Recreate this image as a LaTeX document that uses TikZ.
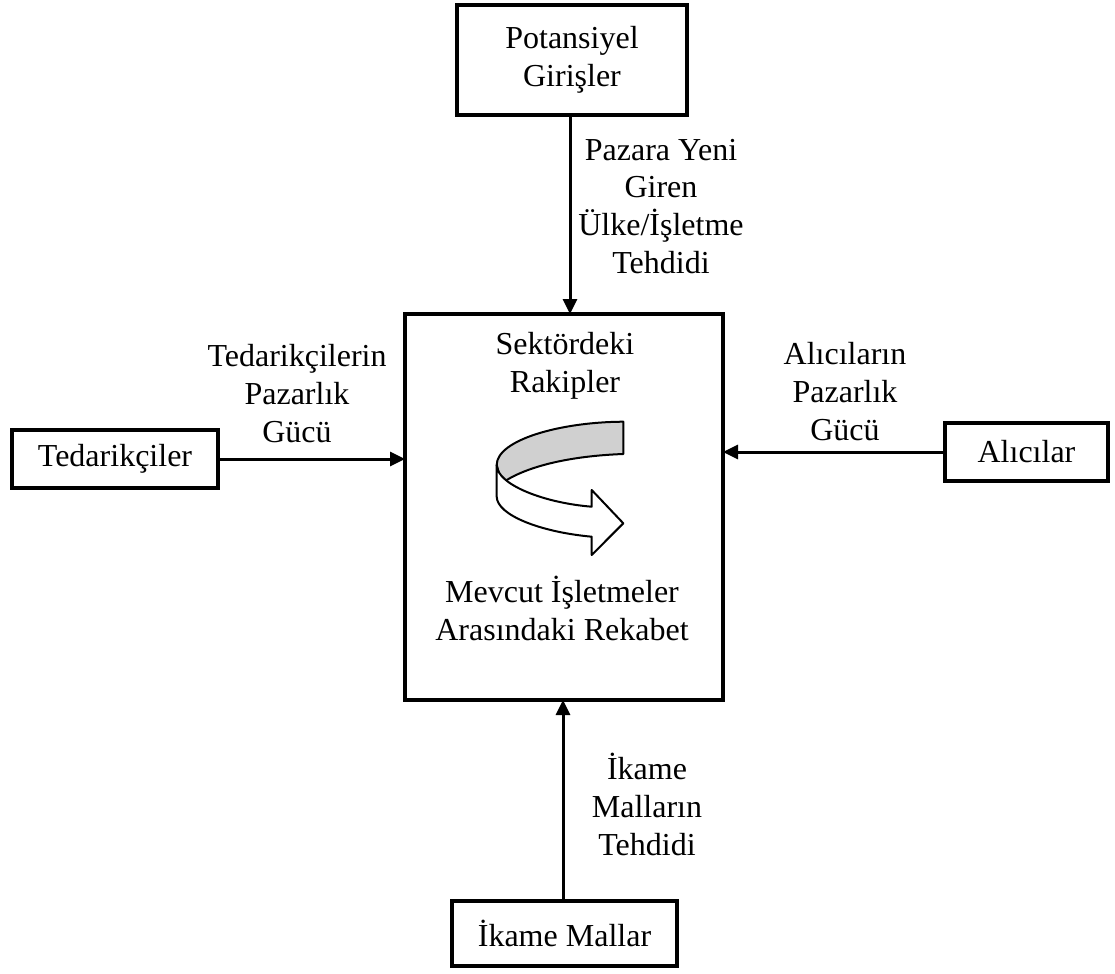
\documentclass[tikz,border=0pt]{standalone}
\usepackage{fontspec}
\setmainfont{Liberation Serif}
\usetikzlibrary{arrows.meta}
\definecolor{bandgrey}{HTML}{D0D0D0}
\begin{document}
\begin{tikzpicture}[x=0.5pt,y=-0.5pt,
  every node/.style={font=\fontsize{16}{18.8}\selectfont, inner sep=0pt, outer sep=0pt},
  boxnode/.style={draw, line width=1.9pt, align=center},
  lbl/.style={align=center, anchor=base},
  arr/.style={line width=1.5pt, -{Triangle[length=7.5pt,width=7pt]}},
  band/.style={line width=1pt, line join=round}]
\useasboundingbox (0,0) rectangle (1115,974);

% boxes
\node[boxnode, minimum width=115pt, minimum height=55pt] (pot) at (572,60) {Potansiyel\\Girişler};
\node[boxnode, minimum width=159pt, minimum height=193pt] (comp) at (564,507) {};
\node[boxnode, minimum width=103pt, minimum height=29pt] (supp) at (115,459) {Tedarikçiler};
\node[boxnode, minimum width=81.5pt, minimum height=29pt] (buy) at (1026.5,452) {Alıcılar};
\node[boxnode, minimum width=112.5pt, minimum height=32.5pt] (subs) at (564.5,933.5) {İkame Mallar};

% connectors
\coordinate (tx) at (570,0);
\coordinate (bx) at (563,0);
\draw[arr] (pot.south -| tx) -- (comp.north -| tx);
\draw[arr] (supp.east) -- (comp.west |- supp.east);
\draw[arr] (buy.west) -- (comp.east |- buy.west);
\draw[arr] (subs.north -| bx) -- (comp.south -| bx);

% labels (anchored at the baseline of their last line)
\node[lbl] (lnew) at (661,273) {Pazara Yeni\\Giren\\Ülke/İşletme\\Tehdidi};
\node[lbl] (lsupp) at (297,442) {Tedarikçilerin\\Pazarlık\\Gücü};
\node[lbl] (lbuy) at (845,440) {Alıcıların\\Pazarlık\\Gücü};
\node[lbl] (lsub) at (647,855) {İkame\\Malların\\Tehdidi};
\node[lbl] (rivals) at (565,392) {Sektördeki\\Rakipler};
\node[lbl] (rivalry) at (562,640) {Mevcut İşletmeler\\Arasındaki Rekabet};

% curved rivalry arrow: grey back band, then white front band with head
\draw[band, fill=bandgrey] (496.7,465) .. controls (496.7,440) and (560,422) .. (623.3,421.7)
  -- (623.3,454) .. controls (570,456) and (530,466) .. (506.7,480) -- (505,495) -- cycle;
\draw[band, fill=white] (496.7,465) .. controls (497,485) and (545,503) .. (591.7,506.7)
  -- (591.7,490) -- (623.3,523.3) -- (591.7,555) -- (591.7,536.7)
  .. controls (540,532) and (497,515) .. (496.7,496.7) -- cycle;
\end{tikzpicture}
\end{document}
